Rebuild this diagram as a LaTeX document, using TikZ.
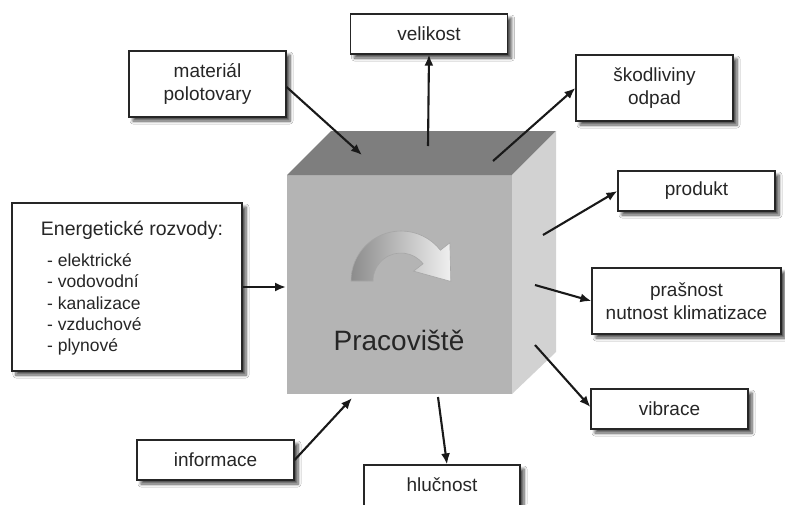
\documentclass[tikz,border=0pt]{standalone}
\usepackage{fontspec}
\setmainfont{Liberation Sans}
\usetikzlibrary{shadows.blur,arrows.meta,calc}
\definecolor{cubefront}{HTML}{B4B4B4}
\definecolor{cubetop}{HTML}{7E7E7E}
\definecolor{cuberight}{HTML}{D2D2D2}
\definecolor{txt}{HTML}{262626}
\begin{document}
\begin{tikzpicture}[x=1pt,y=-1pt,
  box/.style={draw=black!85, line width=1.2pt, fill=white, minimum width=157pt,
    minimum height=40pt, align=center, text=txt, inner sep=0pt,
    font=\fontsize{19}{23}\selectfont,
    blur shadow={shadow xshift=4pt, shadow yshift=-4pt, shadow blur steps=6,
      shadow blur radius=3pt, shadow opacity=70}},
  conn/.style={line width=2.1pt, draw=black!90, -{Latex[length=11pt,width=9pt]}}]
\useasboundingbox (0,0) rectangle (785,504);
\fill[white] (0,0) rectangle (785,504);
% cube
\coordinate (f1) at (287,175);
\coordinate (f2) at (512,175);
\coordinate (f3) at (512,394);
\coordinate (f4) at (287,394);
\coordinate (b1) at (331,131);
\coordinate (b2) at (556,131);
\coordinate (b3) at (556,352);
\fill[cubefront] (f1) rectangle (f3);
\fill[cubetop] (f1) -- (b1) -- (b2) -- (f2) -- cycle;
\fill[cuberight] (f2) -- (b2) -- (b3) -- (f3) -- cycle;
% curved arrow icon
\coordinate (ac) at (401,281);
\coordinate (atip) at ($(ac)+(322:39)+(52:31)$);
\shade[left color=black!45, right color=black!6, draw=black!35, line width=0.6pt]
  ($(ac)+(180:50)$) arc[start angle=180, end angle=322, radius=50]
  -- ($(ac)+(322:62)$) -- (atip) -- ($(ac)+(322:16)$) -- ($(ac)+(322:28)$)
  arc[start angle=322, end angle=180, radius=28] -- cycle;
\node[text=txt, font=\fontsize{28}{30}\selectfont] (prac) at (399,340) {Pracoviště};
% boxes
\node[box] (vel) at (429,34) {velikost};
\node[box, minimum height=66pt] (mat) at (207.5,84) {materiál\\polotovary};
\node[box, minimum height=66pt] (skod) at (654.5,88) {škodliviny\\odpad};
\node[box] (prod) at (696.5,191) {produkt};
\node[box, minimum width=189pt, minimum height=66pt] (pras) at (686.5,301) {prašnost\\nutnost klimatizace};
\node[box] (vib) at (669.5,409) {vibrace};
\node[box, minimum width=156pt, minimum height=44pt] (hluc) at (442,487) {};
\node[text=txt, font=\fontsize{19}{23}\selectfont] at (442,485) {hlučnost};
\node[box] (info) at (215.5,460) {informace};
\node[box, minimum width=230pt, minimum height=168pt] (energ) at (127,287) {};
\node[text=txt, font=\fontsize{19.5}{22}\selectfont] (energh) at (132,230) {Energetické rozvody:};
\node[anchor=west, align=left, text=txt, inner sep=0pt, font=\fontsize{17.5}{21.3}\selectfont] (energl) at (47,304.5)
  {- elektrické\\- vodovodní\\- kanalizace\\- vzduchové\\- plynové};
% connector points on the cube
\coordinate (pmat) at (362,155);
\coordinate (pvel) at (428,146);
\coordinate (pskod) at (493,161);
\coordinate (pprod) at (543,235);
\coordinate (ppras) at (535,285);
\coordinate (pvib) at (535,345);
\coordinate (phluc) at (438,397);
\coordinate (pinfo) at (352,398);
\coordinate (penerg) at (286,287);
% connectors
\draw[conn] ([yshift=-3pt]mat.east) -- (pmat);
\draw[conn] (pvel) -- (vel.south);
\draw[conn] (pskod) -- (skod.west);
\draw[conn] (pprod) -- (prod.west);
\draw[conn] (ppras) -- (pras.west);
\draw[conn] (pvib) -- ([yshift=2pt]vib.west);
\draw[conn] (phluc) -- ([xshift=5pt]hluc.north);
\draw[conn] (info.east) -- (pinfo);
\draw[conn] (energ.east) -- (penerg);
\end{tikzpicture}
\end{document}
